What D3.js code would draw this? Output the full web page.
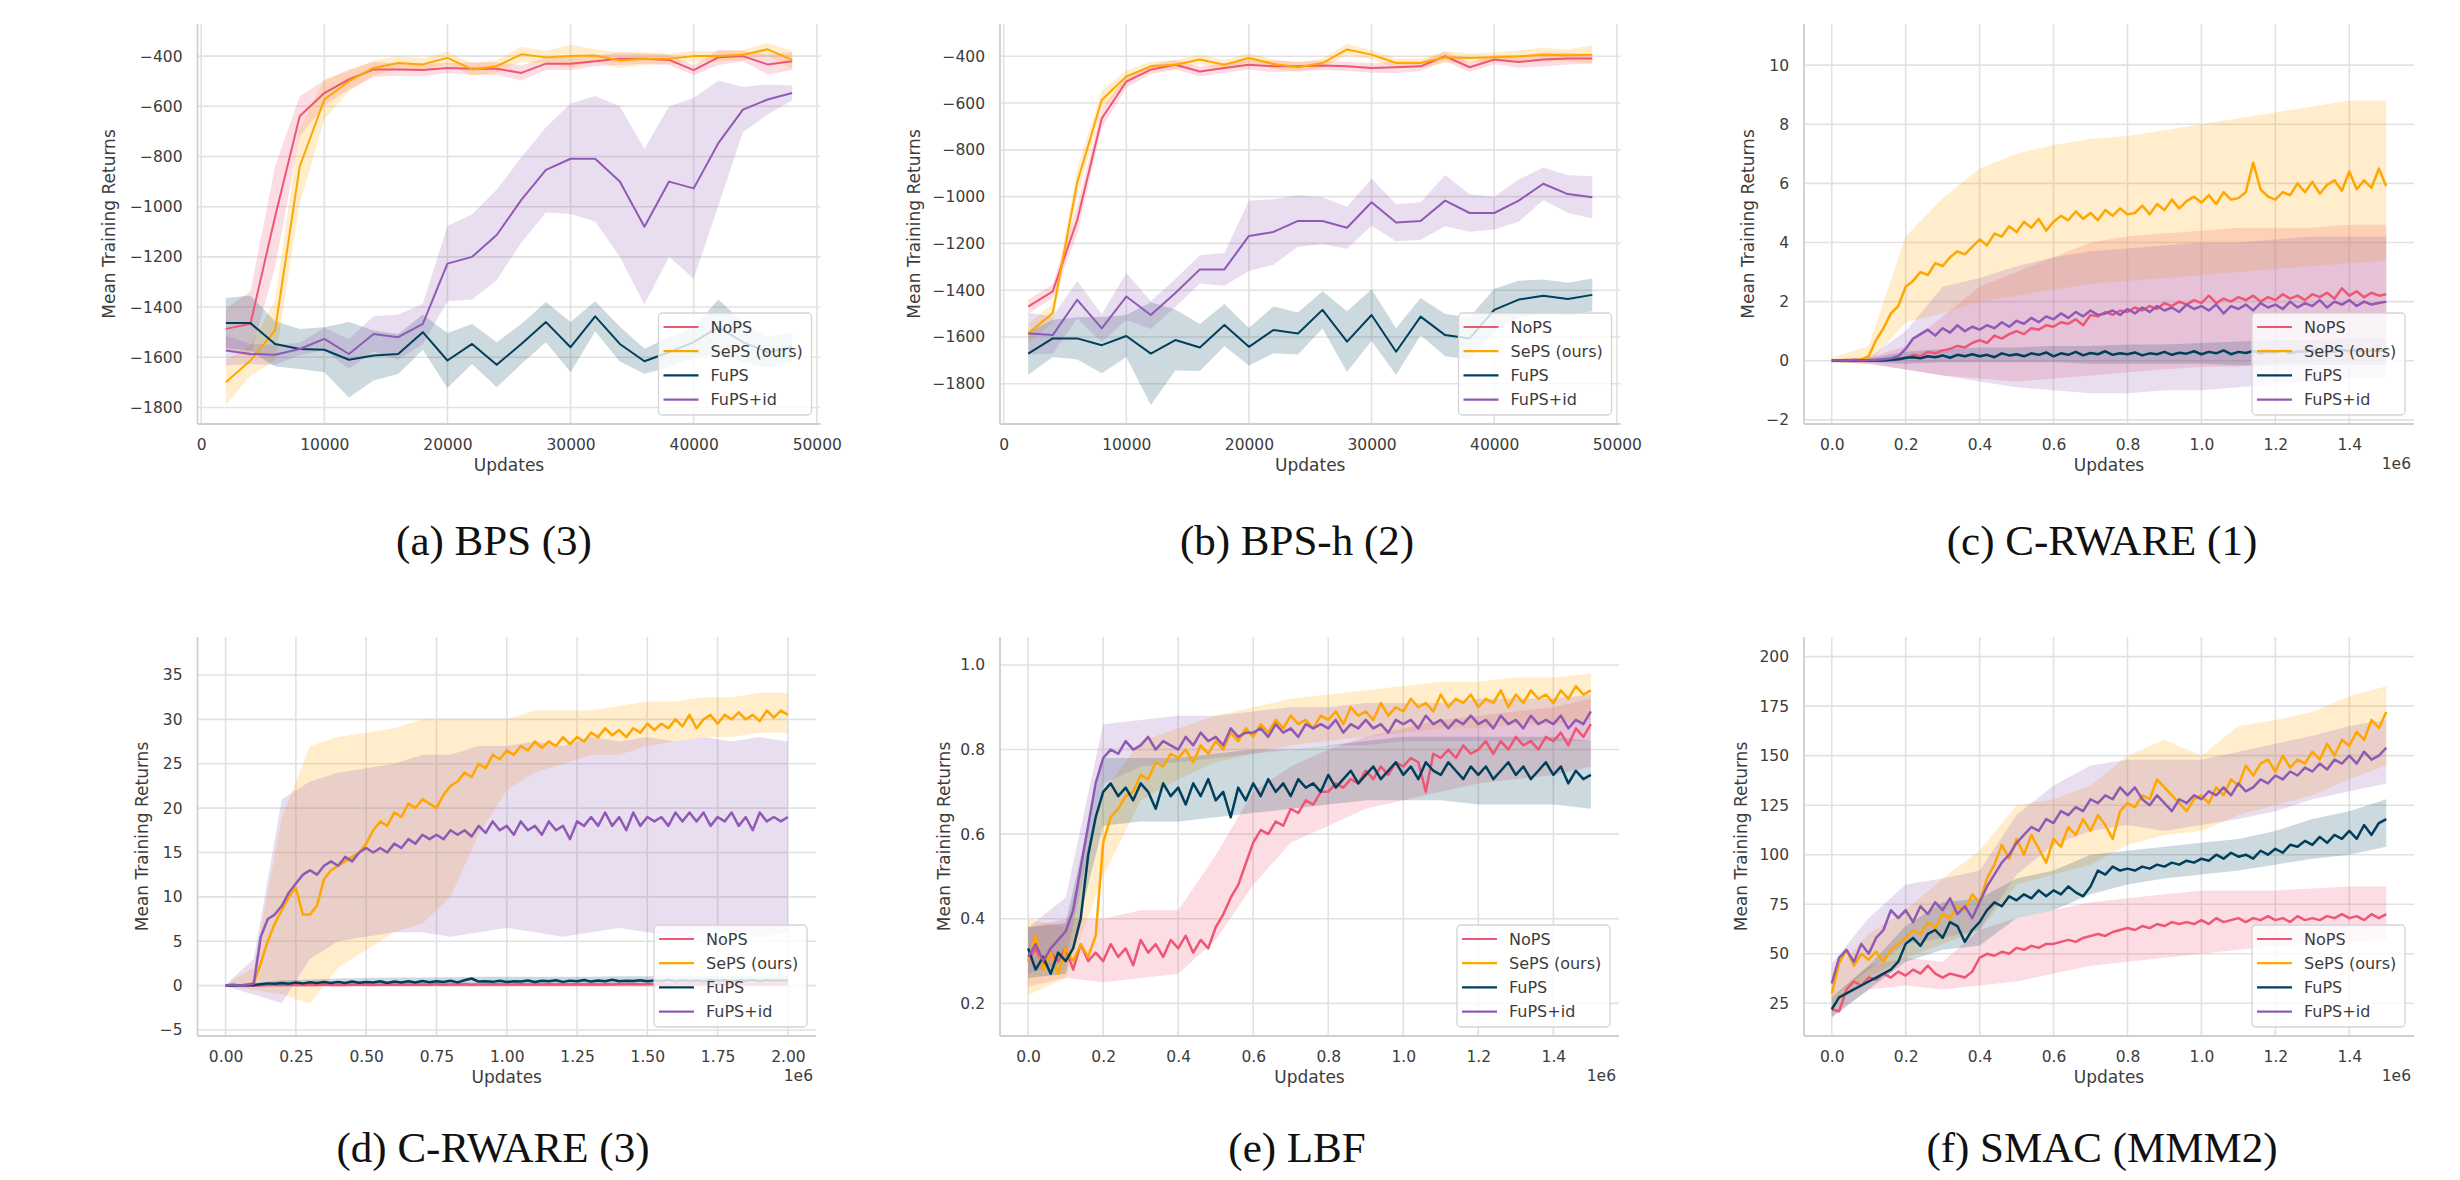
<!DOCTYPE html>
<html><head><meta charset="utf-8">
<script src="https://cdn.jsdelivr.net/npm/d3@7"></script>
<style>
body{margin:0;background:#fff}
svg{display:block}
svg text{font-family:'DejaVu Sans',sans-serif}
</style></head>
<body><svg id="c" width="2460" height="1180"></svg>
<script>
// ---------------- DATA ----------------
const seriesNames = ["NoPS", "SePS (ours)", "FuPS", "FuPS+id"];
const captions = ["(a) BPS (3)", "(b) BPS-h (2)", "(c) C-RWARE (1)", "(d) C-RWARE (3)", "(e) LBF", "(f) SMAC (MMM2)"];
const xLabel = "Updates";
const yLabel = "Mean Training Returns";

// BPS x values
const bpsUpdates = [2000,4000,6000,8000,10000,12000,14000,16000,18000,20000,22000,24000,26000,28000,30000,32000,34000,36000,38000,40000,42000,44000,46000,48000];
const bpsXTicks = [0,10000,20000,30000,40000,50000];
const bpsYTicks = [-1800,-1600,-1400,-1200,-1000,-800,-600,-400];

// (a) BPS (3): mean and error
const a_NoPS  = [-1487,-1467,-1040,-640,-547,-493,-453,-453,-455,-447,-450,-450,-467,-430,-430,-420,-410,-410,-415,-456,-405,-400,-433,-420];
const a_SePS  = [-1700,-1613,-1493,-840,-573,-500,-447,-427,-433,-407,-453,-440,-393,-405,-400,-398,-417,-410,-410,-400,-400,-395,-373,-415];
const a_FuPS  = [-1464,-1464,-1547,-1567,-1570,-1610,-1593,-1587,-1500,-1613,-1547,-1630,-1547,-1460,-1560,-1437,-1547,-1616,-1580,-1540,-1480,-1540,-1580,-1560];
const a_FuPSid= [-1573,-1587,-1590,-1567,-1527,-1587,-1507,-1520,-1467,-1227,-1200,-1113,-973,-853,-809,-809,-900,-1080,-900,-927,-747,-613,-573,-547];
const a_NoPS_err  = [80,130,200,80,50,40,30,25,25,20,25,25,30,25,25,20,25,20,20,20,30,20,40,35];
const a_SePS_err  = [90,60,120,150,80,40,30,25,25,25,25,25,30,25,45,25,30,25,20,20,20,20,25,35];
const a_FuPS_err  = [100,110,90,80,90,150,100,80,70,110,80,90,80,80,100,60,70,50,60,60,110,80,60,60];
const a_FuPSid_err= [60,40,40,25,45,60,70,90,80,150,170,180,170,170,220,250,300,310,300,360,250,90,60,30];

// (b) BPS-h (2)
const b_NoPS  = [-1470,-1405,-1100,-666,-508,-457,-436,-465,-450,-436,-443,-443,-439,-443,-450,-447,-443,-400,-447,-414,-424,-414,-410,-410];
const b_SePS  = [-1585,-1498,-938,-587,-486,-443,-436,-414,-436,-407,-433,-447,-429,-371,-393,-429,-429,-404,-407,-404,-400,-393,-396,-393];
const b_FuPS  = [-1671,-1606,-1606,-1635,-1596,-1671,-1613,-1645,-1549,-1642,-1570,-1585,-1484,-1620,-1506,-1663,-1513,-1592,-1606,-1484,-1440,-1424,-1438,-1420];
const b_FuPSid= [-1585,-1592,-1441,-1563,-1427,-1506,-1412,-1311,-1311,-1168,-1151,-1104,-1104,-1133,-1024,-1111,-1104,-1017,-1070,-1070,-1017,-945,-989,-1003];
const b_NoPS_err  = [30,30,60,40,25,20,20,20,20,20,25,20,20,20,20,25,20,20,20,20,25,30,25,20];
const b_SePS_err  = [40,40,60,40,25,20,20,20,20,20,20,20,20,25,20,20,20,25,20,20,25,30,25,40];
const b_FuPS_err  = [90,80,90,120,90,220,130,100,90,80,100,90,80,130,110,100,80,90,90,90,80,70,70,70];
const b_FuPSid_err= [90,80,80,60,100,60,60,60,70,150,140,110,100,90,100,80,80,110,80,70,90,70,80,90];

// Dense curves: updates in units of 1e6, sampled every step
const step15 = 0.02;   // (c), (e), (f): 0 .. 1.5
const step20 = 0.025;  // (d): 0 .. 2.0
const bandStep = 0.1;  // band samples
const xTicks15 = [0,0.2,0.4,0.6,0.8,1.0,1.2,1.4];
const xTicks20 = [0,0.25,0.5,0.75,1.0,1.25,1.5,1.75,2.0];

// (c) C-RWARE (1)
const cYTicks = [-2,0,2,4,6,8,10];
const c_NoPS = [0.01,0.00,0.02,0.01,0.00,0.02,0.01,0.03,0.02,0.05,
 0.08,0.20,0.15,0.30,0.25,0.35,0.40,0.50,0.45,0.60,
 0.70,0.60,0.85,0.75,0.90,1.00,0.90,1.10,1.05,1.20,
 1.15,1.30,1.25,1.40,1.20,1.55,1.50,1.65,1.55,1.70,
 1.65,1.80,1.70,1.85,1.75,1.95,1.85,2.00,1.90,2.05,
 1.95,2.20,1.95,2.10,2.00,2.15,2.05,2.20,2.00,2.15,
 2.05,2.25,2.10,2.20,2.05,2.25,2.15,2.30,2.10,2.45,
 2.20,2.35,2.15,2.30,2.20,2.25];
const c_SePS = [0.02,0.00,0.03,0.01,0.05,0.15,0.70,1.10,1.60,1.85,
 2.50,2.70,3.00,2.90,3.30,3.20,3.50,3.70,3.60,3.85,
 4.10,3.90,4.30,4.20,4.55,4.35,4.70,4.50,4.80,4.40,
 4.70,4.90,4.75,5.05,4.80,5.00,4.75,5.10,4.90,5.15,
 4.95,5.00,5.25,4.95,5.30,5.10,5.45,5.15,5.40,5.55,
 5.35,5.60,5.30,5.70,5.45,5.50,5.70,6.70,5.80,5.55,
 5.45,5.70,5.60,6.00,5.70,6.05,5.65,5.95,6.10,5.75,
 6.40,5.80,6.10,5.85,6.50,5.90];
const c_FuPS = [0.00,0.01,0.00,0.02,0.01,0.00,0.02,0.01,0.03,0.05,
 0.10,0.12,0.08,0.15,0.12,0.18,0.10,0.20,0.15,0.22,
 0.15,0.20,0.12,0.25,0.18,0.22,0.15,0.25,0.20,0.28,
 0.15,0.25,0.20,0.30,0.18,0.26,0.22,0.32,0.20,0.25,
 0.22,0.28,0.18,0.25,0.22,0.30,0.20,0.27,0.24,0.32,
 0.22,0.30,0.25,0.35,0.22,0.30,0.26,0.33,0.25,0.30,
 0.28,0.35,0.25,0.32,0.30,0.36,0.28,0.34,0.30,0.38,
 0.32,0.36,0.30,0.35,0.33,0.36];
const c_FuPSid = [0.01,0.02,0.00,0.03,0.01,0.02,0.03,0.05,0.08,0.15,
 0.40,0.75,0.90,1.05,0.85,1.10,0.95,1.20,1.00,1.15,
 1.05,1.20,1.10,1.30,1.15,1.35,1.25,1.45,1.30,1.50,
 1.40,1.60,1.45,1.65,1.50,1.70,1.55,1.60,1.70,1.55,
 1.75,1.60,1.80,1.65,1.85,1.70,1.80,1.65,1.90,1.75,
 1.85,1.70,1.90,1.60,1.85,1.75,1.90,1.70,1.95,1.80,
 1.90,1.75,2.00,1.80,1.95,1.85,2.05,1.80,2.00,1.90,
 2.05,1.85,2.00,1.90,1.95,2.00];
const c_NoPS_lo   = [-0.05,-0.1,-0.3,-0.5,-0.6,-0.7,-0.6,-0.5,-0.4,-0.3,-0.2,-0.2,-0.1,0.0,0.0,0.0];
const c_NoPS_hi   = [0.05,0.1,0.5,1.5,2.5,3.0,3.5,4.0,4.2,4.3,4.4,4.5,4.5,4.5,4.6,4.6];
const c_SePS_lo   = [-0.05,-0.1,1.3,1.6,2.0,2.2,2.4,2.6,2.7,2.8,2.9,3.0,3.1,3.2,3.3,3.4];
const c_SePS_hi   = [0.1,0.5,4.2,5.5,6.5,7.0,7.3,7.5,7.6,7.8,8.0,8.2,8.4,8.6,8.8,8.8];
const c_FuPS_lo   = [-0.02,-0.05,-0.1,-0.05,-0.05,-0.05,-0.05,-0.1,-0.1,-0.1,-0.1,-0.15,-0.15,-0.15,-0.15,-0.15];
const c_FuPS_hi   = [0.02,0.08,0.3,0.4,0.45,0.45,0.5,0.5,0.55,0.55,0.6,0.65,0.7,0.7,0.75,0.75];
const c_FuPSid_lo = [-0.05,-0.1,-0.3,-0.5,-0.7,-0.9,-1.0,-1.1,-1.1,-1.0,-1.0,-0.9,-0.8,-0.7,-0.6,-0.6];
const c_FuPSid_hi = [0.05,0.1,1.0,2.5,2.8,3.2,3.5,3.7,3.8,3.9,4.0,4.0,4.1,4.2,4.2,4.2];

// (d) C-RWARE (3)
const dYTicks = [-5,0,5,10,15,20,25,30,35];
const d_NoPS = [0,0,0,0,0.02,0.05,0.08,0.06,0.10,0.07,
 0.09,0.06,0.10,0.08,0.11,0.07,0.10,0.08,0.12,0.09,
 0.10,0.08,0.12,0.09,0.11,0.10,0.13,0.09,0.12,0.10,
 0.14,0.10,0.12,0.11,0.14,0.10,0.13,0.11,0.15,0.12,
 0.13,0.11,0.14,0.12,0.15,0.11,0.14,0.12,0.16,0.13,
 0.14,0.12,0.15,0.13,0.16,0.12,0.15,0.14,0.17,0.13,
 0.15,0.14,0.17,0.13,0.16,0.14,0.18,0.15,0.16,0.14,
 0.18,0.15,0.17,0.14,0.18,0.16,0.17,0.15,0.19,0.16,
 0.18];
const d_SePS = [0.0,0.1,0.0,0.1,0.3,2.5,5.0,7.0,8.5,10.0,
 11.0,8.0,8.0,9.0,12.0,13.0,13.5,14.0,14.5,15.0,
 16.0,17.5,18.5,18.0,19.5,19.0,20.5,20.0,21.0,20.5,
 20.0,21.5,22.5,23.0,24.0,23.5,25.0,24.5,26.0,25.5,
 26.5,26.0,27.0,26.5,27.5,26.8,27.5,27.0,28.0,27.2,
 28.0,27.5,28.5,28.0,29.0,28.2,28.8,28.0,29.0,28.5,
 29.5,28.8,29.5,29.0,30.0,29.2,30.5,29.0,30.0,30.5,
 29.5,30.5,30.0,30.8,30.0,30.5,29.8,31.0,30.2,31.0,
 30.5];
const d_FuPS = [0,0.02,0,0.03,0.05,0.15,0.25,0.20,0.30,0.22,
 0.35,0.25,0.38,0.28,0.40,0.30,0.42,0.30,0.45,0.32,
 0.40,0.35,0.48,0.30,0.45,0.36,0.50,0.34,0.52,0.38,
 0.48,0.40,0.55,0.36,0.60,0.80,0.45,0.50,0.42,0.55,
 0.40,0.50,0.45,0.58,0.40,0.55,0.48,0.60,0.42,0.56,
 0.50,0.62,0.45,0.58,0.50,0.65,0.48,0.55,0.52,0.60,
 0.50,0.58,0.50,0.62,0.48,0.60,0.52,0.58,0.50,0.62,
 0.55,0.60,0.50,0.58,0.55,0.62,0.50,0.60,0.55,0.58,
 0.56];
const d_FuPSid = [0.0,0.1,0.0,0.1,0.2,5.5,7.5,8.0,9.0,10.5,
 11.5,12.5,13.0,12.5,13.5,14.0,13.5,14.5,14.0,15.0,
 15.5,15.0,15.5,15.0,16.0,15.5,16.5,16.0,17.0,16.5,
 17.0,16.5,17.5,17.0,17.5,16.8,18.0,17.2,18.5,17.5,
 18.0,17.0,18.5,17.5,18.0,17.0,18.5,17.5,18.0,16.5,
 18.5,18.0,19.0,18.0,19.5,18.0,19.0,17.5,19.5,18.0,
 19.0,18.5,19.0,18.0,19.5,18.5,19.5,18.5,19.5,18.0,
 19.0,18.5,19.5,18.0,19.0,17.5,19.5,18.5,19.0,18.5,
 19.0];
const d_NoPS_lo   = [0,-0.1,-0.1,-0.1,-0.1,-0.1,-0.1,-0.1,-0.1,-0.1,-0.1,-0.1,-0.1,-0.1,-0.1,-0.1,-0.1,-0.1,-0.1,-0.1,-0.1];
const d_NoPS_hi   = [0,0.2,0.25,0.3,0.3,0.3,0.3,0.35,0.35,0.35,0.35,0.35,0.4,0.4,0.4,0.4,0.4,0.4,0.4,0.45,0.45];
const d_SePS_lo   = [-0.1,-0.5,-1,-2,2,4,6,7,10,17,22,24,25,26,26,27,27.5,28,28,28.5,28.5];
const d_SePS_hi   = [0.1,2,19,27,28,28.5,29,30,30,30,30,31,31,31,31.5,32,32,32.5,32.5,33,33];
const d_FuPS_lo   = [0,-0.1,0,0.05,0.05,0.05,0.05,0.05,0.1,0.1,0.1,0.1,0.1,0.1,0.1,0.1,0.1,0.1,0.1,0.1,0.1];
const d_FuPS_hi   = [0,0.3,0.6,0.7,0.8,0.85,0.9,0.9,0.95,1.0,1.0,1.0,1.0,1.0,1.05,1.05,1.05,1.05,1.05,1.1,1.1];
const d_FuPSid_lo = [-0.1,-1,-2,3,5,5.5,6,6,5.5,6,6.5,6,5.5,6,6.5,6,5.5,6,6,5.5,6];
const d_FuPSid_hi = [0.1,3,21,23,24,24.5,25,26,26,27,27,27.5,27,28,27.5,28,27.5,28,27.5,28,27.5];

// (e) LBF
const eYTicks = [0.2,0.4,0.6,0.8,1.0];
const e_NoPS = [0.30,0.33,0.29,0.32,0.30,0.33,0.28,0.34,0.30,0.32,
 0.30,0.34,0.31,0.33,0.29,0.35,0.32,0.34,0.31,0.35,
 0.33,0.36,0.32,0.35,0.33,0.38,0.41,0.45,0.48,0.53,
 0.58,0.61,0.60,0.63,0.62,0.66,0.65,0.68,0.67,0.70,
 0.70,0.72,0.71,0.73,0.72,0.75,0.73,0.76,0.74,0.77,
 0.76,0.78,0.77,0.70,0.79,0.78,0.80,0.78,0.81,0.79,
 0.80,0.82,0.79,0.82,0.80,0.83,0.81,0.82,0.80,0.83,
 0.82,0.84,0.81,0.85,0.83,0.86];
const e_SePS = [0.30,0.36,0.28,0.32,0.27,0.33,0.30,0.34,0.31,0.36,
 0.58,0.64,0.66,0.69,0.70,0.74,0.73,0.77,0.76,0.79,
 0.78,0.80,0.77,0.81,0.79,0.82,0.80,0.84,0.82,0.85,
 0.83,0.86,0.84,0.87,0.85,0.88,0.86,0.87,0.85,0.88,
 0.87,0.89,0.86,0.90,0.88,0.89,0.87,0.91,0.88,0.90,
 0.89,0.92,0.90,0.91,0.89,0.93,0.90,0.92,0.91,0.93,
 0.90,0.92,0.91,0.94,0.90,0.93,0.91,0.94,0.92,0.93,
 0.91,0.94,0.92,0.95,0.93,0.94];
const e_FuPS = [0.33,0.28,0.31,0.27,0.32,0.30,0.33,0.40,0.55,0.64,
 0.70,0.72,0.69,0.71,0.68,0.72,0.70,0.66,0.72,0.69,
 0.71,0.67,0.72,0.69,0.73,0.68,0.70,0.64,0.71,0.68,
 0.72,0.69,0.73,0.70,0.72,0.69,0.73,0.71,0.72,0.70,
 0.74,0.71,0.73,0.75,0.72,0.74,0.76,0.73,0.75,0.77,
 0.74,0.76,0.73,0.77,0.75,0.74,0.77,0.75,0.73,0.76,
 0.74,0.76,0.73,0.75,0.77,0.74,0.76,0.73,0.75,0.77,
 0.74,0.76,0.72,0.75,0.73,0.74];
const e_FuPSid = [0.31,0.34,0.30,0.33,0.35,0.37,0.42,0.52,0.62,0.72,
 0.78,0.80,0.79,0.82,0.80,0.81,0.83,0.80,0.82,0.81,
 0.80,0.83,0.81,0.84,0.82,0.83,0.81,0.85,0.83,0.84,
 0.84,0.85,0.83,0.86,0.84,0.85,0.83,0.86,0.85,0.86,
 0.85,0.87,0.84,0.86,0.85,0.87,0.85,0.86,0.84,0.87,
 0.86,0.87,0.85,0.88,0.86,0.87,0.85,0.87,0.86,0.88,
 0.86,0.87,0.85,0.88,0.86,0.87,0.85,0.88,0.86,0.87,
 0.86,0.88,0.85,0.87,0.86,0.89];
const e_NoPS_lo   = [0.24,0.26,0.25,0.26,0.27,0.35,0.48,0.58,0.62,0.66,0.68,0.70,0.72,0.73,0.74,0.76];
const e_NoPS_hi   = [0.38,0.40,0.40,0.42,0.42,0.55,0.70,0.76,0.80,0.83,0.85,0.87,0.88,0.89,0.90,0.92];
const e_SePS_lo   = [0.22,0.26,0.50,0.68,0.73,0.77,0.79,0.81,0.82,0.83,0.84,0.85,0.85,0.86,0.86,0.87];
const e_SePS_hi   = [0.40,0.38,0.70,0.82,0.85,0.88,0.90,0.92,0.93,0.94,0.95,0.96,0.96,0.97,0.97,0.98];
const e_FuPS_lo   = [0.26,0.27,0.62,0.63,0.63,0.64,0.65,0.66,0.67,0.68,0.68,0.68,0.67,0.67,0.67,0.66];
const e_FuPS_hi   = [0.38,0.39,0.78,0.78,0.78,0.79,0.80,0.80,0.81,0.82,0.83,0.83,0.83,0.83,0.83,0.82];
const e_FuPSid_lo = [0.27,0.30,0.72,0.76,0.77,0.78,0.79,0.80,0.81,0.81,0.82,0.82,0.82,0.82,0.82,0.82];
const e_FuPSid_hi = [0.38,0.45,0.86,0.87,0.88,0.88,0.89,0.90,0.90,0.91,0.91,0.91,0.92,0.92,0.92,0.93];

// (f) SMAC (MMM2)
const fYTicks = [25,50,75,100,125,150,175,200];
const f_NoPS = [22,21,32,36,34,38,37,40,38,41,
 39,42,40,44,40,38,40,39,38,41,
 48,50,49,51,50,53,52,54,53,55,
 55,56,57,56,58,59,60,59,61,62,
 63,62,64,63,65,64,66,65,66,65,
 67,65,68,66,67,68,66,68,67,69,
 67,68,66,69,67,68,67,69,68,70,
 68,69,67,70,68,70];
const f_SePS = [30,45,52,44,50,47,51,46,52,55,
 58,62,60,66,63,70,68,74,72,80,
 76,88,95,105,98,108,100,110,103,96,
 108,104,114,110,118,112,120,115,108,122,
 126,124,130,128,138,134,130,126,122,128,
 130,126,134,130,138,135,145,140,146,148,
 142,150,144,148,146,152,148,156,150,158,
 155,162,158,168,164,172];
const f_FuPS = [22,28,30,32,34,36,38,40,42,46,
 55,58,54,60,62,58,66,64,56,62,
 66,72,76,74,79,77,80,78,82,79,
 82,80,84,81,79,84,92,90,94,92,
 93,92,94,93,95,94,96,95,97,96,
 98,97,100,98,101,99,100,98,102,100,
 103,101,105,104,107,105,109,106,110,108,
 112,108,115,110,116,118];
const f_FuPSid = [35,48,52,46,55,50,58,62,72,68,
 72,66,74,70,76,72,78,70,74,68,
 76,84,90,96,100,106,110,114,112,118,
 116,122,120,124,122,128,126,130,128,134,
 130,134,128,125,130,126,122,128,126,130,
 128,132,130,134,130,136,132,134,138,136,
 140,138,142,140,144,142,146,143,148,146,
 150,146,152,148,150,154];
const f_NoPS_lo   = [18,32,34,32,34,36,40,44,46,48,50,52,54,55,56,57];
const f_NoPS_hi   = [28,44,48,46,62,68,72,76,78,80,82,82,82,83,84,84];
const f_SePS_lo   = [25,38,48,55,62,85,90,95,105,110,112,120,125,130,138,145];
const f_SePS_hi   = [40,60,72,88,102,125,128,135,150,158,150,165,168,172,180,185];
const f_FuPS_lo   = [18,32,46,52,54,68,72,80,85,88,90,92,95,98,100,104];
const f_FuPS_hi   = [28,44,64,76,78,88,92,100,102,104,106,108,112,118,122,128];
const f_FuPSid_lo = [28,42,55,58,62,90,105,112,115,112,115,118,122,128,132,136];
const f_FuPSid_hi = [45,68,85,88,92,120,135,145,148,148,148,152,156,160,165,168];

// ---------------- STYLE / LAYOUT ----------------
const seriesColors = ["#ef5675", "#ffa600", "#003f5c", "#9059b6"];
const TXT = "#3c3c3c";
const svg = d3.select("#c");

const gridOf = (arr, step) => arr.map((_, i) => +(i * step).toFixed(4));
function bandFromErr(mean, err, sign) { return mean.map((v, i) => v + sign * err[i]); }

function seriesSet(xs, ys, bxs, los, his) {
  return ys.map((y, i) => ({name: seriesNames[i], color: seriesColors[i], x: xs, y: y, bx: bxs, lo: los[i], hi: his[i]}));
}

const panels = [
  {box:[197.5, 820.5, 24, 424], xDom:[-300, 50300], yDom:[-1866, -272], xTicks:bpsXTicks, yTicks:bpsYTicks,
   xFmt:d3.format("d"), yFmt:d3.format("d"), offset:null, ylabX:109, capX:494, capY:555, lw:2,
   series: seriesSet(bpsUpdates, [a_NoPS, a_SePS, a_FuPS, a_FuPSid], bpsUpdates,
     [bandFromErr(a_NoPS,a_NoPS_err,-1), bandFromErr(a_SePS,a_SePS_err,-1), bandFromErr(a_FuPS,a_FuPS_err,-1), bandFromErr(a_FuPSid,a_FuPSid_err,-1)],
     [bandFromErr(a_NoPS,a_NoPS_err,1), bandFromErr(a_SePS,a_SePS_err,1), bandFromErr(a_FuPS,a_FuPS_err,1), bandFromErr(a_FuPSid,a_FuPSid_err,1)])},
  {box:[1000, 1620.5, 24, 424], xDom:[-300, 50300], yDom:[-1972, -262], xTicks:bpsXTicks, yTicks:bpsYTicks,
   xFmt:d3.format("d"), yFmt:d3.format("d"), offset:null, ylabX:914, capX:1297, capY:555, lw:2,
   series: seriesSet(bpsUpdates, [b_NoPS, b_SePS, b_FuPS, b_FuPSid], bpsUpdates,
     [bandFromErr(b_NoPS,b_NoPS_err,-1), bandFromErr(b_SePS,b_SePS_err,-1), bandFromErr(b_FuPS,b_FuPS_err,-1), bandFromErr(b_FuPSid,b_FuPSid_err,-1)],
     [bandFromErr(b_NoPS,b_NoPS_err,1), bandFromErr(b_SePS,b_SePS_err,1), bandFromErr(b_FuPS,b_FuPS_err,1), bandFromErr(b_FuPSid,b_FuPSid_err,1)])},
  {box:[1804, 2414, 24, 424], xDom:[-0.075, 1.575], yDom:[-2.14, 11.39], xTicks:xTicks15, yTicks:cYTicks,
   xFmt:d3.format(".1f"), yFmt:d3.format("d"), offset:"1e6", ylabX:1748, capX:2102, capY:555, lw:2.5,
   series: seriesSet(gridOf(c_NoPS, step15), [c_NoPS, c_SePS, c_FuPS, c_FuPSid], gridOf(c_NoPS_lo, bandStep),
     [c_NoPS_lo, c_SePS_lo, c_FuPS_lo, c_FuPSid_lo], [c_NoPS_hi, c_SePS_hi, c_FuPS_hi, c_FuPSid_hi])},
  {box:[197.5, 816, 637, 1036], xDom:[-0.1, 2.1], yDom:[-5.68, 39.28], xTicks:xTicks20, yTicks:dYTicks,
   xFmt:d3.format(".2f"), yFmt:d3.format("d"), offset:"1e6", ylabX:142, capX:493, capY:1162, lw:2.5,
   series: seriesSet(gridOf(d_NoPS, step20), [d_NoPS, d_SePS, d_FuPS, d_FuPSid], gridOf(d_NoPS_lo, bandStep),
     [d_NoPS_lo, d_SePS_lo, d_FuPS_lo, d_FuPSid_lo], [d_NoPS_hi, d_SePS_hi, d_FuPS_hi, d_FuPSid_hi])},
  {box:[1000, 1619, 637, 1036], xDom:[-0.075, 1.575], yDom:[0.123, 1.066], xTicks:xTicks15, yTicks:eYTicks,
   xFmt:d3.format(".1f"), yFmt:d3.format(".1f"), offset:"1e6", ylabX:944, capX:1297, capY:1162, lw:2.5,
   series: seriesSet(gridOf(e_NoPS, step15), [e_NoPS, e_SePS, e_FuPS, e_FuPSid], gridOf(e_NoPS_lo, bandStep),
     [e_NoPS_lo, e_SePS_lo, e_FuPS_lo, e_FuPSid_lo], [e_NoPS_hi, e_SePS_hi, e_FuPS_hi, e_FuPSid_hi])},
  {box:[1804, 2414, 637, 1036], xDom:[-0.075, 1.575], yDom:[8.5, 209.9], xTicks:xTicks15, yTicks:fYTicks,
   xFmt:d3.format(".1f"), yFmt:d3.format("d"), offset:"1e6", ylabX:1741, capX:2102, capY:1162, lw:2.5,
   series: seriesSet(gridOf(f_NoPS, step15), [f_NoPS, f_SePS, f_FuPS, f_FuPSid], gridOf(f_NoPS_lo, bandStep),
     [f_NoPS_lo, f_SePS_lo, f_FuPS_lo, f_FuPSid_lo], [f_NoPS_hi, f_SePS_hi, f_FuPS_hi, f_FuPSid_hi])}
];

const defs = svg.append("defs");

panels.forEach((p, pi) => {
  const [L, R, T, B] = p.box;
  const x = d3.scaleLinear().domain(p.xDom).range([L, R]);
  const y = d3.scaleLinear().domain(p.yDom).range([B, T]);
  const g = svg.append("g");

  // grid
  g.append("g").selectAll("line").data(p.yTicks).join("line")
    .attr("x1", L).attr("x2", R).attr("y1", d => y(d)).attr("y2", d => y(d))
    .attr("stroke", "#e2e2e2").attr("stroke-width", 1.6);
  g.append("g").selectAll("line").data(p.xTicks).join("line")
    .attr("y1", T).attr("y2", B).attr("x1", d => x(d)).attr("x2", d => x(d))
    .attr("stroke", "#e2e2e2").attr("stroke-width", 1.6);

  // spines (left, bottom)
  g.append("line").attr("x1", L).attr("x2", L).attr("y1", T).attr("y2", B).attr("stroke", "#cfcfcf").attr("stroke-width", 1.8);
  g.append("line").attr("x1", L).attr("x2", R).attr("y1", B).attr("y2", B).attr("stroke", "#cfcfcf").attr("stroke-width", 1.8);

  // clip
  const cid = "clip" + pi;
  defs.append("clipPath").attr("id", cid).append("rect").attr("x", L).attr("y", T).attr("width", R - L).attr("height", B - T);
  const plot = g.append("g").attr("clip-path", `url(#${cid})`);

  // bands (below all lines)
  p.series.forEach(s => {
    const area = d3.area().x((d, i) => x(s.bx[i])).y0((d, i) => y(s.lo[i])).y1((d, i) => y(s.hi[i]));
    plot.append("path").datum(s.lo).attr("d", area).attr("fill", s.color).attr("fill-opacity", 0.2);
  });
  // lines
  p.series.forEach(s => {
    const line = d3.line().x((d, i) => x(s.x[i])).y(d => y(d));
    plot.append("path").datum(s.y).attr("d", line).attr("fill", "none")
      .attr("stroke", s.color).attr("stroke-width", p.lw).attr("stroke-linejoin", "round");
  });

  // axes tick labels
  const ya = d3.axisLeft(y).tickValues(p.yTicks).tickFormat(p.yFmt).tickSize(0).tickPadding(15);
  g.append("g").attr("transform", `translate(${L},0)`).call(ya)
    .call(a => a.select(".domain").remove())
    .selectAll("text").attr("font-size", 15.5).attr("fill", TXT).attr("font-family", "'DejaVu Sans',sans-serif");
  const xa = d3.axisBottom(x).tickValues(p.xTicks).tickFormat(p.xFmt).tickSize(0).tickPadding(15);
  g.append("g").attr("transform", `translate(0,${B})`).call(xa)
    .call(a => a.select(".domain").remove())
    .selectAll("text").attr("font-size", 15.5).attr("fill", TXT).attr("font-family", "'DejaVu Sans',sans-serif");

  // axis labels
  g.append("text").attr("x", (L + R) / 2).attr("y", B + 47).attr("text-anchor", "middle")
    .attr("font-size", 17).attr("fill", TXT).text(xLabel);
  g.append("text").attr("transform", `translate(${p.ylabX},${(T + B) / 2}) rotate(-90)`).attr("text-anchor", "middle")
    .attr("dy", "0.35em").attr("font-size", 17).attr("fill", TXT).text(yLabel);
  if (p.offset) {
    g.append("text").attr("x", R - 3).attr("y", B + 45).attr("text-anchor", "end")
      .attr("font-size", 15.5).attr("fill", TXT).text(p.offset);
  }

  // legend
  const lw = 153, lh = 102;
  const lg = g.append("g").attr("transform", `translate(${R - 9 - lw},${B - 9 - lh})`);
  lg.append("rect").attr("width", lw).attr("height", lh).attr("rx", 4)
    .attr("fill", "#fff").attr("fill-opacity", 0.8).attr("stroke", "#d4d4d4").attr("stroke-width", 1.3);
  p.series.forEach((s, i) => {
    const yy = 14 + i * 24.2;
    lg.append("line").attr("x1", 5).attr("x2", 40).attr("y1", yy).attr("y2", yy)
      .attr("stroke", s.color).attr("stroke-width", 2.2);
    lg.append("text").attr("x", 52).attr("y", yy).attr("dy", "0.35em")
      .attr("font-size", 16).attr("fill", TXT).text(s.name);
  });

  // caption
  svg.append("text").attr("x", p.capX).attr("y", p.capY).attr("text-anchor", "middle")
    .style("font-family", "'Liberation Serif','Times New Roman',serif")
    .attr("font-size", 43).attr("fill", "#111").text(captions[pi]);
});
</script>
</body></html>
